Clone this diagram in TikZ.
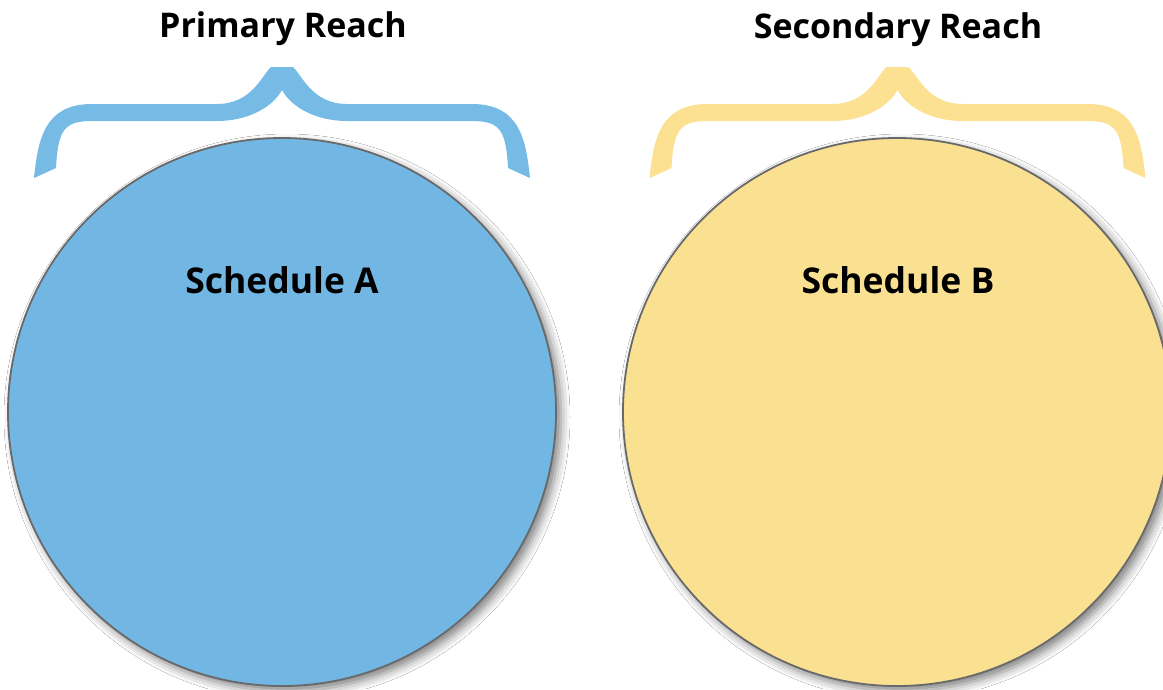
\documentclass[tikz,border=0pt]{standalone}
\usepackage{fontspec}
\setmainfont{Open Sans}
\usetikzlibrary{shadows.blur}
\definecolor{blueA}{RGB}{114,183,227}
\definecolor{blueBr}{RGB}{118,187,230}
\definecolor{yellowB}{RGB}{250,225,146}
\definecolor{yellowBr}{RGB}{251,225,145}
\definecolor{rim}{RGB}{105,105,105}
\tikzset{
  reachcircle/.style={circle, minimum size=548pt, inner sep=0pt, draw=rim, line width=1.8pt,
    blur shadow={shadow xshift=5pt, shadow yshift=-5pt, shadow blur radius=9pt, shadow opacity=50}},
  titletext/.style={font=\bfseries\fontsize{34}{40}\selectfont, anchor=base, inner sep=0pt},
  schedtext/.style={font=\bfseries\fontsize{35.5}{42}\selectfont, anchor=base, inner sep=0pt}
}
\newcommand{\reachbrace}{%
  (-248,178) .. controls (-244,140) and (-238,104) .. (-190,104)
  -- (-65,104) .. controls (-30,104) and (-20,75) .. (-11,67)
  -- (11,67) .. controls (20,75) and (30,104) .. (65,104)
  -- (190,104) .. controls (238,104) and (244,140) .. (248,178)
  -- (226,168) .. controls (224,130) and (218,121) .. (190,121)
  -- (65,121) .. controls (35,121) and (10,108) .. (0,90)
  .. controls (-10,108) and (-35,121) .. (-65,121)
  -- (-190,121) .. controls (-218,121) and (-224,130) .. (-226,168)
  -- cycle}
\begin{document}
\begin{tikzpicture}[x=1pt,y=-1pt]
\useasboundingbox (0,0) rectangle (1163,689);
\fill[white] (0,0) rectangle (1163,689);
% circles
\node[reachcircle, fill=blueA] (circA) at (282,412) {};
\node[reachcircle, fill=yellowB] (circB) at (897,412) {};
% braces
\begin{scope}[shift={(282,0)}]
  \fill[blueBr] \reachbrace;
\end{scope}
\begin{scope}[shift={(897.5,0)}]
  \fill[yellowBr] \reachbrace;
\end{scope}
% texts
\node[titletext] (tA) at (283,37) {Primary Reach};
\node[titletext] (tB) at (898,38) {Secondary Reach};
\node[schedtext] (sA) at (282,293) {Schedule A};
\node[schedtext] (sB) at (898,293) {Schedule B};
\end{tikzpicture}
\end{document}
